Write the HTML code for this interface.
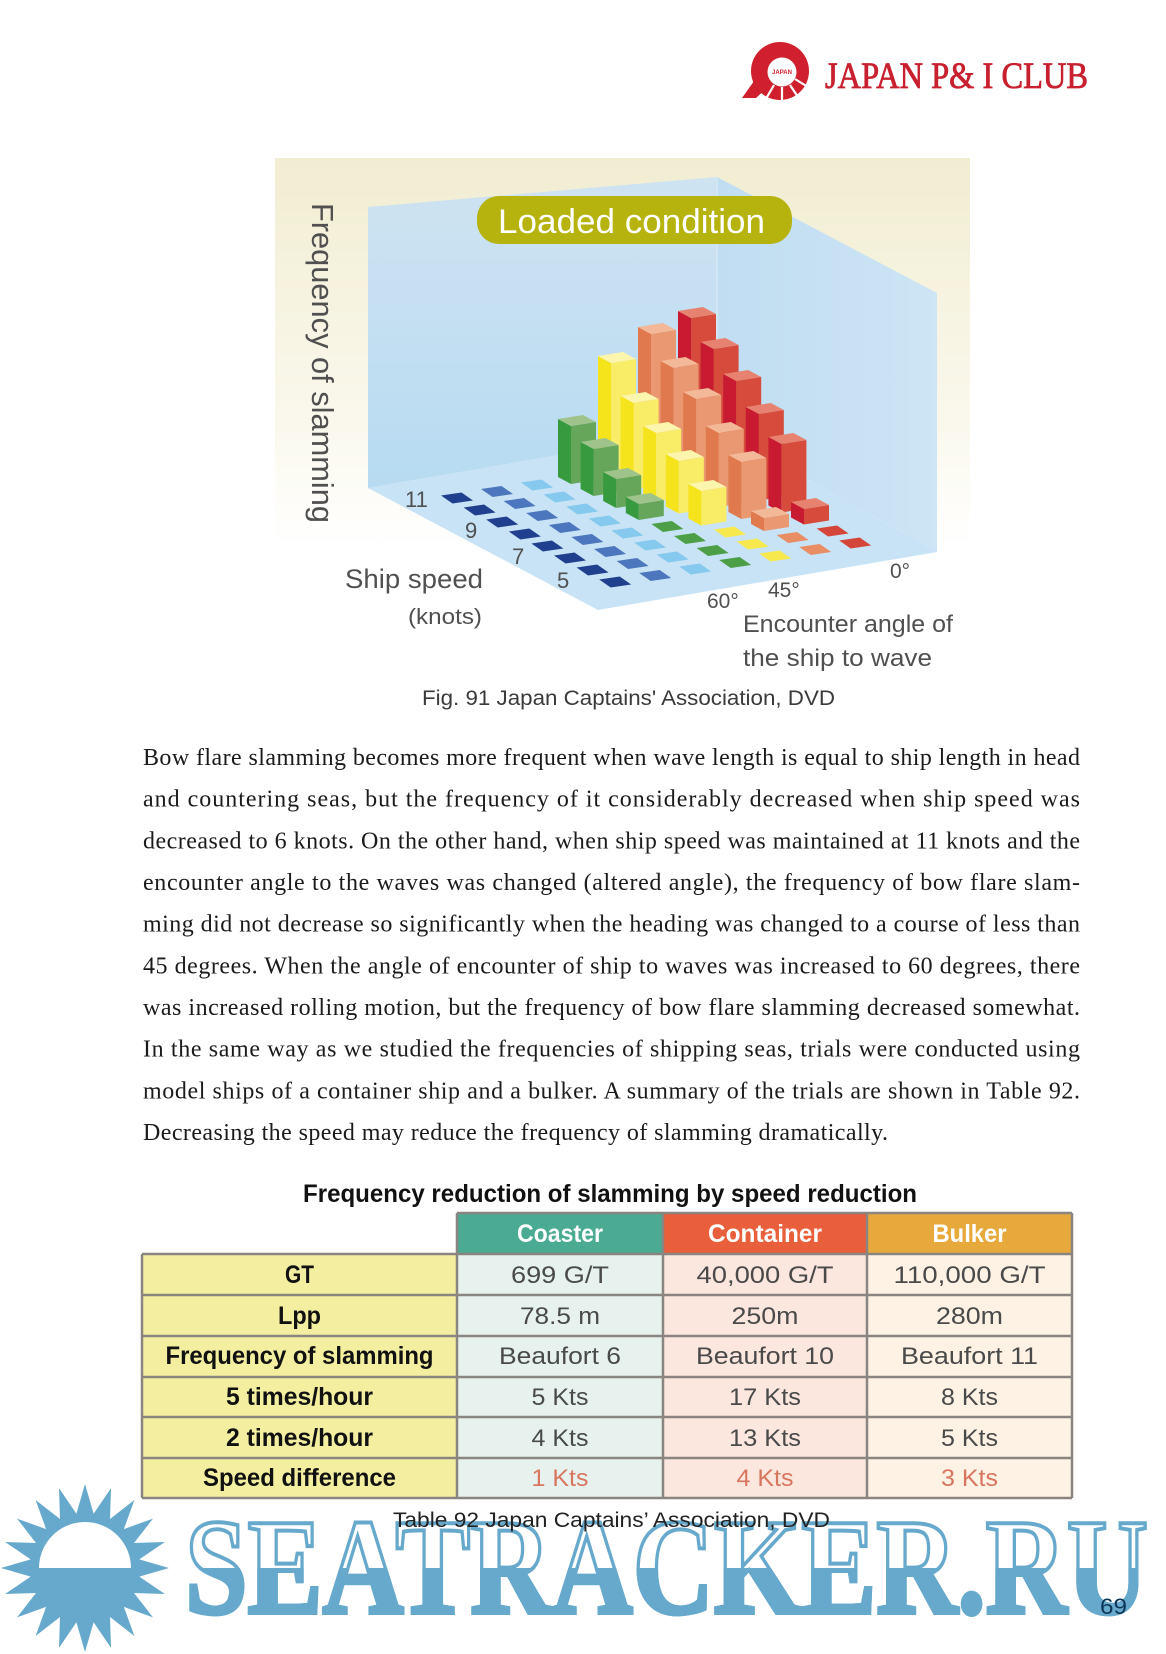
<!DOCTYPE html>
<html>
<head>
<meta charset="utf-8">
<style>
html,body{margin:0;padding:0;background:#fff;}
svg{display:block;}
.sans{font-family:"Liberation Sans","DejaVu Sans",sans-serif;}
.serif{font-family:"Liberation Serif","DejaVu Serif",serif;}
.rl{fill:#c81a30}.rf{fill:#d64b3c}.rt{fill:#e6826f}
.ol{fill:#e07a4e}.of{fill:#ea9872}.ot{fill:#f3b898}
.yl{fill:#f5e31c}.yf{fill:#f9ed68}.yt{fill:#fcf5ad}
.gl{fill:#389a3e}.gf{fill:#66a65b}.gt{fill:#9ec48c}
.lab{font-family:"Liberation Sans",sans-serif;fill:#505050;}
.th{font-family:"Liberation Sans",sans-serif;font-weight:bold;font-size:25px;fill:#111;text-anchor:middle;}
.td{font-family:"Liberation Sans",sans-serif;font-size:24px;fill:#4a4a4a;text-anchor:middle;}
.tr{fill:#d9765f;}
.hd{font-family:"Liberation Sans",sans-serif;font-weight:bold;font-size:25px;fill:#fff;text-anchor:middle;}
.body{font-family:"Liberation Serif",serif;font-size:24px;fill:#1c1a1b;}
</style>
</head>
<body>
<svg width="1166" height="1654" viewBox="0 0 1166 1654" xmlns="http://www.w3.org/2000/svg">
<defs>
  <linearGradient id="bg" x1="0" y1="0" x2="0" y2="1">
    <stop offset="0" stop-color="#f1edd2"/>
    <stop offset="0.5" stop-color="#faf8ec"/>
    <stop offset="0.75" stop-color="#ffffff"/>
  </linearGradient>
  <linearGradient id="lw" x1="0" y1="0" x2="0" y2="1">
    <stop offset="0" stop-color="#cfe3f1"/>
    <stop offset="1" stop-color="#b7dbf2"/>
  </linearGradient>
  <linearGradient id="rw" x1="0" y1="0" x2="1" y2="0">
    <stop offset="0" stop-color="#c0ddf2"/>
    <stop offset="1" stop-color="#cde5f4"/>
  </linearGradient>
  <path id="sq" d="M-16,-2.5L-4.5,5.5L16,2.5L4.5,-5.5Z"/>
  <clipPath id="bot"><rect x="0" y="1568" width="1166" height="100"/></clipPath>
</defs>
<rect width="1166" height="1654" fill="#fff"/>

<!-- Logo -->
<circle cx="780" cy="71" r="29" fill="#d0202e"/>
<path d="M742,98 L756,98 L771,84 L759,74 Z" fill="#d0202e"/>
<circle cx="782" cy="72" r="14.5" fill="#fff"/>
<g stroke="#fff" stroke-width="2.2">
  <line x1="782" y1="87" x2="782" y2="101"/>
  <line x1="790" y1="85" x2="798" y2="97"/>
  <line x1="774" y1="85" x2="767" y2="97"/>
  <line x1="795" y1="79" x2="808" y2="87"/>
</g>
<text x="782" y="74" font-size="6" font-weight="bold" text-anchor="middle" fill="#d0202e" class="sans">JAPAN</text>
<text x="825" y="88" font-size="37" fill="#c8202f" class="serif" stroke="#c8202f" stroke-width="0.8" textLength="263" lengthAdjust="spacingAndGlyphs">JAPAN P&amp; I CLUB</text>

<!-- Chart background -->
<rect x="275" y="158" width="695" height="520" fill="url(#bg)"/>
<polygon points="368,207 717,177 717,428 368,488" fill="url(#lw)"/>
<polygon points="717,177 937,293 937,552 717,428" fill="url(#rw)"/>
<polygon points="368,488 717,428 937,552 598,610" fill="#c8e3f5"/>
<line x1="717" y1="177" x2="717" y2="428" stroke="#d6eaf6" stroke-width="1.5"/>

<!-- Loaded condition -->
<rect x="477" y="196" width="315" height="48" rx="22" fill="#b6b30f"/>
<text x="498" y="233" font-size="34" fill="#fff" class="sans" textLength="267" lengthAdjust="spacingAndGlyphs">Loaded condition</text>

<!-- Axis labels -->
<text transform="translate(312,203) rotate(90)" font-size="31" class="lab" textLength="320" lengthAdjust="spacingAndGlyphs">Frequency of slamming</text>
<text x="345" y="588" font-size="27" class="lab" textLength="138" lengthAdjust="spacingAndGlyphs">Ship speed</text>
<text x="408" y="624" font-size="22" class="lab" textLength="74" lengthAdjust="spacingAndGlyphs">(knots)</text>
<text x="405" y="507" font-size="22" class="lab">11</text>
<text x="465" y="538" font-size="22" class="lab">9</text>
<text x="512" y="564" font-size="22" class="lab">7</text>
<text x="557" y="588" font-size="22" class="lab">5</text>
<text x="707" y="608" font-size="21" class="lab">60°</text>
<text x="768" y="597" font-size="21" class="lab">45°</text>
<text x="890" y="578" font-size="21" class="lab">0°</text>
<text x="743" y="632" font-size="24" class="lab" textLength="210" lengthAdjust="spacingAndGlyphs">Encounter angle of</text>
<text x="743" y="666" font-size="24" class="lab" textLength="189" lengthAdjust="spacingAndGlyphs">the ship to wave</text>

<!-- Flat squares -->
<g fill="#20408f">
<use href="#sq" x="457" y="498"/><use href="#sq" x="479.6" y="510"/><use href="#sq" x="502.2" y="522"/><use href="#sq" x="524.8" y="534"/>
<use href="#sq" x="547.4" y="546"/><use href="#sq" x="570" y="558"/><use href="#sq" x="592.6" y="570"/><use href="#sq" x="615.2" y="582"/>
</g>
<g fill="#4c76bd">
<use href="#sq" x="497" y="491.5"/><use href="#sq" x="519.6" y="503.5"/><use href="#sq" x="542.2" y="515.5"/><use href="#sq" x="564.8" y="527.5"/>
<use href="#sq" x="587.4" y="539.5"/><use href="#sq" x="610" y="551.5"/><use href="#sq" x="632.6" y="563.5"/><use href="#sq" x="655.2" y="575.5"/>
</g>
<g fill="#86c9ee">
<use href="#sq" x="537" y="485"/><use href="#sq" x="559.6" y="497"/><use href="#sq" x="582.2" y="509"/><use href="#sq" x="604.8" y="521"/>
<use href="#sq" x="627.4" y="533"/><use href="#sq" x="650" y="545"/><use href="#sq" x="672.6" y="557"/><use href="#sq" x="695.2" y="569"/>
</g>
<g fill="#4c9e47">
<use href="#sq" x="667.4" y="526.5"/><use href="#sq" x="690" y="538.5"/><use href="#sq" x="712.6" y="550.5"/><use href="#sq" x="735.2" y="562.5"/>
</g>
<g fill="#f7e84e">
<use href="#sq" x="730" y="532"/><use href="#sq" x="752.6" y="544"/><use href="#sq" x="775.2" y="556"/>
</g>
<g fill="#e98d64">
<use href="#sq" x="792.6" y="537.5"/><use href="#sq" x="815.2" y="549.5"/>
</g>
<g fill="#d4463a">
<use href="#sq" x="832.6" y="531"/><use href="#sq" x="855.2" y="543"/>
</g>

<!-- Bars: row 0 -->
<g transform="translate(697,459)"><path class="rl" d="M-19,-1.5l13,7v-146.5l-13,-7z"/><path class="rf" d="M-6,5.5l25,-4v-146.5l-25,4z"/><path class="rt" d="M-19,-148l13,7l25,-4l-13,-7z"/></g>
<g transform="translate(657,465.5)"><path class="ol" d="M-19,-1.5l13,7v-137l-13,-7z"/><path class="of" d="M-6,5.5l25,-4v-137l-25,4z"/><path class="ot" d="M-19,-138.5l13,7l25,-4l-13,-7z"/></g>
<g transform="translate(617,472)"><path class="yl" d="M-19,-1.5l13,7v-114.5l-13,-7z"/><path class="yf" d="M-6,5.5l25,-4v-114.5l-25,4z"/><path class="yt" d="M-19,-116l13,7l25,-4l-13,-7z"/></g>
<g transform="translate(577,478.5)"><path class="gl" d="M-19,-1.5l13,7v-58l-13,-7z"/><path class="gf" d="M-6,5.5l25,-4v-58l-25,4z"/><path class="gt" d="M-19,-59.5l13,7l25,-4l-13,-7z"/></g>
<!-- row 1 -->
<g transform="translate(719.6,471)"><path class="rl" d="M-19,-1.5l13,7v-127.5l-13,-7z"/><path class="rf" d="M-6,5.5l25,-4v-127.5l-25,4z"/><path class="rt" d="M-19,-129l13,7l25,-4l-13,-7z"/></g>
<g transform="translate(679.6,477.5)"><path class="ol" d="M-19,-1.5l13,7v-115l-13,-7z"/><path class="of" d="M-6,5.5l25,-4v-115l-25,4z"/><path class="ot" d="M-19,-116.5l13,7l25,-4l-13,-7z"/></g>
<g transform="translate(639.6,484)"><path class="yl" d="M-19,-1.5l13,7v-86.5l-13,-7z"/><path class="yf" d="M-6,5.5l25,-4v-86.5l-25,4z"/><path class="yt" d="M-19,-88l13,7l25,-4l-13,-7z"/></g>
<g transform="translate(599.6,490.5)"><path class="gl" d="M-19,-1.5l13,7v-47l-13,-7z"/><path class="gf" d="M-6,5.5l25,-4v-47l-25,4z"/><path class="gt" d="M-19,-48.5l13,7l25,-4l-13,-7z"/></g>
<!-- row 2 -->
<g transform="translate(742.2,483)"><path class="rl" d="M-19,-1.5l13,7v-107.5l-13,-7z"/><path class="rf" d="M-6,5.5l25,-4v-107.5l-25,4z"/><path class="rt" d="M-19,-109l13,7l25,-4l-13,-7z"/></g>
<g transform="translate(702.2,489.5)"><path class="ol" d="M-19,-1.5l13,7v-96l-13,-7z"/><path class="of" d="M-6,5.5l25,-4v-96l-25,4z"/><path class="ot" d="M-19,-97.5l13,7l25,-4l-13,-7z"/></g>
<g transform="translate(662.2,496)"><path class="yl" d="M-19,-1.5l13,7v-68.5l-13,-7z"/><path class="yf" d="M-6,5.5l25,-4v-68.5l-25,4z"/><path class="yt" d="M-19,-70l13,7l25,-4l-13,-7z"/></g>
<g transform="translate(622.2,502.5)"><path class="gl" d="M-19,-1.5l13,7v-29l-13,-7z"/><path class="gf" d="M-6,5.5l25,-4v-29l-25,4z"/><path class="gt" d="M-19,-30.5l13,7l25,-4l-13,-7z"/></g>
<!-- row 3 -->
<g transform="translate(764.8,495)"><path class="rl" d="M-19,-1.5l13,7v-86.5l-13,-7z"/><path class="rf" d="M-6,5.5l25,-4v-86.5l-25,4z"/><path class="rt" d="M-19,-88l13,7l25,-4l-13,-7z"/></g>
<g transform="translate(724.8,501.5)"><path class="ol" d="M-19,-1.5l13,7v-74l-13,-7z"/><path class="of" d="M-6,5.5l25,-4v-74l-25,4z"/><path class="ot" d="M-19,-75.5l13,7l25,-4l-13,-7z"/></g>
<g transform="translate(684.8,508)"><path class="yl" d="M-19,-1.5l13,7v-52.5l-13,-7z"/><path class="yf" d="M-6,5.5l25,-4v-52.5l-25,4z"/><path class="yt" d="M-19,-54l13,7l25,-4l-13,-7z"/></g>
<g transform="translate(644.8,514.5)"><path class="gl" d="M-19,-1.5l13,7v-16l-13,-7z"/><path class="gf" d="M-6,5.5l25,-4v-16l-25,4z"/><path class="gt" d="M-19,-17.5l13,7l25,-4l-13,-7z"/></g>
<!-- row 4 -->
<g transform="translate(787.4,507)"><path class="rl" d="M-19,-1.5l13,7v-68.5l-13,-7z"/><path class="rf" d="M-6,5.5l25,-4v-68.5l-25,4z"/><path class="rt" d="M-19,-70l13,7l25,-4l-13,-7z"/></g>
<g transform="translate(747.4,513.5)"><path class="ol" d="M-19,-1.5l13,7v-57l-13,-7z"/><path class="of" d="M-6,5.5l25,-4v-57l-25,4z"/><path class="ot" d="M-19,-58.5l13,7l25,-4l-13,-7z"/></g>
<g transform="translate(707.4,520)"><path class="yl" d="M-19,-1.5l13,7v-34.5l-13,-7z"/><path class="yf" d="M-6,5.5l25,-4v-34.5l-25,4z"/><path class="yt" d="M-19,-36l13,7l25,-4l-13,-7z"/></g>
<!-- row 5 -->
<g transform="translate(810,519)"><path class="rl" d="M-19,-1.5l13,7v-15.5l-13,-7z"/><path class="rf" d="M-6,5.5l25,-4v-15.5l-25,4z"/><path class="rt" d="M-19,-17l13,7l25,-4l-13,-7z"/></g>
<g transform="translate(770,525.5)"><path class="ol" d="M-19,-1.5l13,7v-13l-13,-7z"/><path class="of" d="M-6,5.5l25,-4v-13l-25,4z"/><path class="ot" d="M-19,-14.5l13,7l25,-4l-13,-7z"/></g>

<!-- Fig caption -->
<text x="422" y="705" font-size="21" class="sans" fill="#3a3a3a" textLength="413" lengthAdjust="spacingAndGlyphs">Fig. 91 Japan Captains' Association, DVD</text>

<!-- Body text -->
<text class="body" x="143" y="765" textLength="937" lengthAdjust="spacing">Bow flare slamming becomes more frequent when wave length is equal to ship length in head</text>
<text class="body" x="143" y="806.7" textLength="937" lengthAdjust="spacing">and countering seas, but the frequency of it considerably decreased when ship speed was</text>
<text class="body" x="143" y="848.3" textLength="937" lengthAdjust="spacing">decreased to 6 knots. On the other hand, when ship speed was maintained at 11 knots and the</text>
<text class="body" x="143" y="890" textLength="937" lengthAdjust="spacing">encounter angle to the waves was changed (altered angle), the frequency of bow flare slam-</text>
<text class="body" x="143" y="931.7" textLength="937" lengthAdjust="spacing">ming did not decrease so significantly when the heading was changed to a course of less than</text>
<text class="body" x="143" y="973.3" textLength="937" lengthAdjust="spacing">45 degrees. When the angle of encounter of ship to waves was increased to 60 degrees, there</text>
<text class="body" x="143" y="1015" textLength="937" lengthAdjust="spacing">was increased rolling motion, but the frequency of bow flare slamming decreased somewhat.</text>
<text class="body" x="143" y="1056.7" textLength="937" lengthAdjust="spacing">In the same way as we studied the frequencies of shipping seas, trials were conducted using</text>
<text class="body" x="143" y="1098.3" textLength="937" lengthAdjust="spacing">model ships of a container ship and a bulker. A summary of the trials are shown in Table 92.</text>
<text class="body" x="143" y="1140" textLength="745" lengthAdjust="spacing">Decreasing the speed may reduce the frequency of slamming dramatically.</text>

<!-- Table -->
<text x="303" y="1202" font-size="25" font-weight="bold" class="sans" fill="#111" textLength="614" lengthAdjust="spacingAndGlyphs">Frequency reduction of slamming by speed reduction</text>
<rect x="457" y="1213" width="206" height="41" fill="#4aab92"/>
<rect x="663" y="1213" width="204" height="41" fill="#e95f3b"/>
<rect x="867" y="1213" width="205" height="41" fill="#e7a93b"/>
<rect x="142" y="1254" width="315" height="244" fill="#f4efa0"/>
<rect x="457" y="1254" width="206" height="244" fill="#e7f2ee"/>
<rect x="663" y="1254" width="204" height="244" fill="#fbe7dd"/>
<rect x="867" y="1254" width="205" height="244" fill="#fdf2e3"/>
<g stroke="#8a8580" stroke-width="2.5" fill="none">
  <line x1="457" y1="1213" x2="1072" y2="1213"/>
  <line x1="142" y1="1254" x2="1072" y2="1254"/>
  <line x1="142" y1="1295" x2="1072" y2="1295"/>
  <line x1="142" y1="1336" x2="1072" y2="1336"/>
  <line x1="142" y1="1377" x2="1072" y2="1377"/>
  <line x1="142" y1="1417" x2="1072" y2="1417"/>
  <line x1="142" y1="1458" x2="1072" y2="1458"/>
  <line x1="142" y1="1498" x2="1072" y2="1498"/>
  <line x1="142" y1="1254" x2="142" y2="1498"/>
  <line x1="457" y1="1213" x2="457" y2="1498"/>
  <line x1="663" y1="1213" x2="663" y2="1498"/>
  <line x1="867" y1="1213" x2="867" y2="1498"/>
  <line x1="1072" y1="1213" x2="1072" y2="1498"/>
</g>
<text class="hd" x="560" y="1242" textLength="86" lengthAdjust="spacingAndGlyphs">Coaster</text>
<text class="hd" x="765" y="1242" textLength="114" lengthAdjust="spacingAndGlyphs">Container</text>
<text class="hd" x="969.5" y="1242" textLength="74" lengthAdjust="spacingAndGlyphs">Bulker</text>

<text class="th" x="299.5" y="1283" textLength="29" lengthAdjust="spacingAndGlyphs">GT</text>
<text class="th" x="299.5" y="1324" textLength="43" lengthAdjust="spacingAndGlyphs">Lpp</text>
<text class="th" x="299.5" y="1364" textLength="268" lengthAdjust="spacingAndGlyphs">Frequency of slamming</text>
<text class="th" x="299.5" y="1405" textLength="147" lengthAdjust="spacingAndGlyphs">5 times/hour</text>
<text class="th" x="299.5" y="1446" textLength="147" lengthAdjust="spacingAndGlyphs">2 times/hour</text>
<text class="th" x="299.5" y="1486" textLength="193" lengthAdjust="spacingAndGlyphs">Speed difference</text>

<text class="td" x="560" y="1283" textLength="98" lengthAdjust="spacingAndGlyphs">699 G/T</text>
<text class="td" x="560" y="1324" textLength="80" lengthAdjust="spacingAndGlyphs">78.5 m</text>
<text class="td" x="560" y="1364" textLength="122" lengthAdjust="spacingAndGlyphs">Beaufort 6</text>
<text class="td" x="560" y="1405" textLength="57" lengthAdjust="spacingAndGlyphs">5 Kts</text>
<text class="td" x="560" y="1446" textLength="57" lengthAdjust="spacingAndGlyphs">4 Kts</text>
<text class="td tr" x="560" y="1486" textLength="57" lengthAdjust="spacingAndGlyphs">1 Kts</text>

<text class="td" x="765" y="1283" textLength="137" lengthAdjust="spacingAndGlyphs">40,000 G/T</text>
<text class="td" x="765" y="1324" textLength="67" lengthAdjust="spacingAndGlyphs">250m</text>
<text class="td" x="765" y="1364" textLength="138" lengthAdjust="spacingAndGlyphs">Beaufort 10</text>
<text class="td" x="765" y="1405" textLength="72" lengthAdjust="spacingAndGlyphs">17 Kts</text>
<text class="td" x="765" y="1446" textLength="72" lengthAdjust="spacingAndGlyphs">13 Kts</text>
<text class="td tr" x="765" y="1486" textLength="57" lengthAdjust="spacingAndGlyphs">4 Kts</text>

<text class="td" x="969.5" y="1283" textLength="152" lengthAdjust="spacingAndGlyphs">110,000 G/T</text>
<text class="td" x="969.5" y="1324" textLength="67" lengthAdjust="spacingAndGlyphs">280m</text>
<text class="td" x="969.5" y="1364" textLength="137" lengthAdjust="spacingAndGlyphs">Beaufort 11</text>
<text class="td" x="969.5" y="1405" textLength="57" lengthAdjust="spacingAndGlyphs">8 Kts</text>
<text class="td" x="969.5" y="1446" textLength="57" lengthAdjust="spacingAndGlyphs">5 Kts</text>
<text class="td tr" x="969.5" y="1486" textLength="57" lengthAdjust="spacingAndGlyphs">3 Kts</text>

<!-- Watermark sun -->
<g transform="translate(85,1568)" fill="#67a9cc">
  <polygon points="84,0 54.3,-8.6 79.9,-26 49,-25 68,-49.4 38.9,-38.9 49.4,-68 25,-49 26,-79.9 8.6,-54.3 0,-84 -8.6,-54.3 -26,-79.9 -25,-49 -49.4,-68 -38.9,-38.9 -68,-49.4 -49,-25 -79.9,-26 -54.3,-8.6 -84,0 -54.3,8.6 -79.9,26 -49,25 -68,49.4 -38.9,38.9 -49.4,68 -25,49 -26,79.9 -8.6,54.3 0,84 8.6,54.3 26,79.9 25,49 49.4,68 38.9,38.9 68,49.4 49,25 79.9,26 54.3,8.6"/>
  <path d="M-46,0 A46,46 0 0 1 46,0 Z" fill="#fff"/>
</g>
<!-- Watermark text -->
<text x="185" y="1613" font-size="137" font-weight="bold" class="serif" fill="#fff" stroke="#67a9cc" stroke-width="4" textLength="963" lengthAdjust="spacingAndGlyphs">SEATRACKER.RU</text>
<text x="185" y="1613" font-size="137" font-weight="bold" class="serif" fill="#67a9cc" stroke="#67a9cc" stroke-width="4" clip-path="url(#bot)" textLength="963" lengthAdjust="spacingAndGlyphs">SEATRACKER.RU</text>

<!-- Table caption -->
<text x="393" y="1527" font-size="21" class="sans" fill="#222" textLength="437" lengthAdjust="spacingAndGlyphs">Table 92 Japan Captains’ Association, DVD</text>

<!-- Page number -->
<text x="1100" y="1614" font-size="22" class="sans" fill="#0b3556" textLength="27" lengthAdjust="spacingAndGlyphs">69</text>
</svg>
</body>
</html>
